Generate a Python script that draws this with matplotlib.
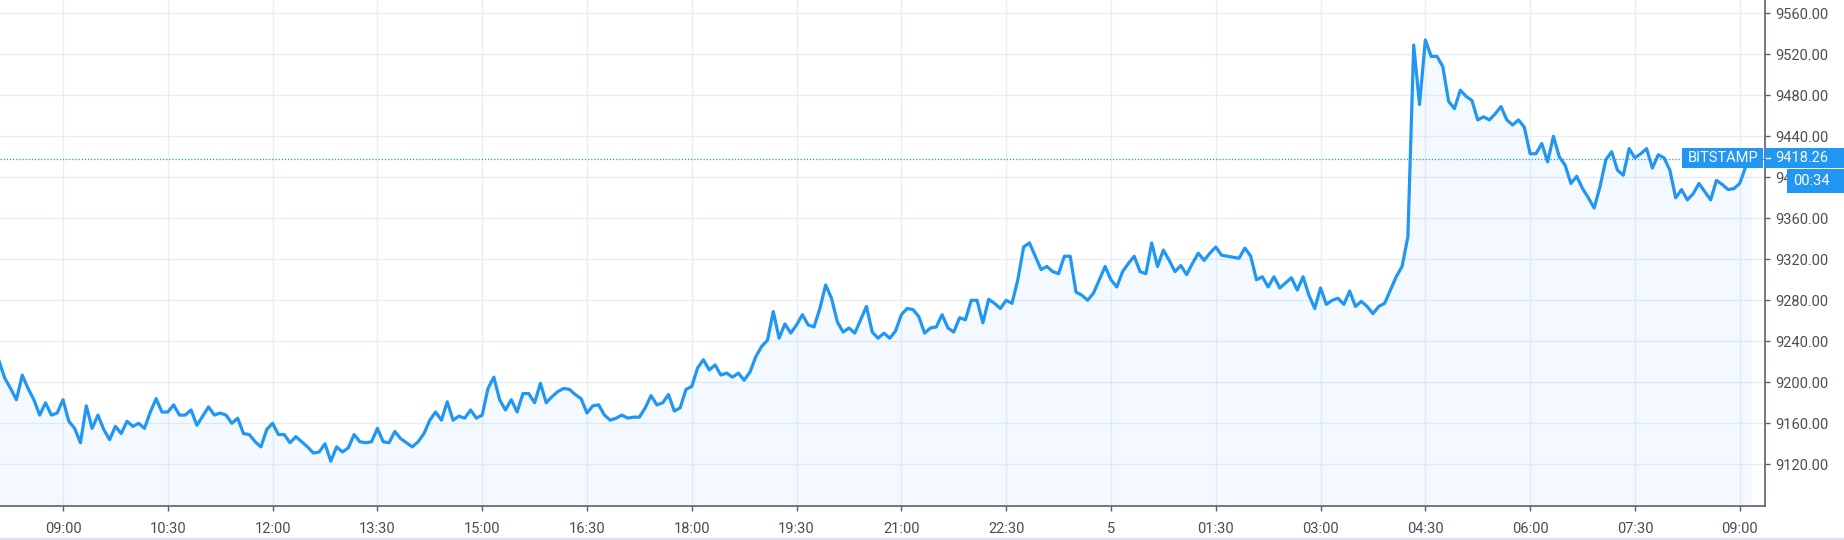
import numpy as np
import pandas as pd
import matplotlib
matplotlib.use("Agg")
import matplotlib.pyplot as plt
from matplotlib.patches import Rectangle
from matplotlib.lines import Line2D

# BTCUSD (Bitstamp), 5-minute closes, starting 08:05 on the 4th
start = "2020-02-04 08:05"
prices = [
    9221, 9204, 9194, 9183, 9207, 9194, 9183, 9168, 9180, 9168,
    9170, 9183, 9162, 9155, 9141, 9177, 9155, 9168, 9154, 9144,
    9157, 9150, 9162, 9157, 9160, 9155, 9171, 9184, 9171, 9171,
    9178, 9168, 9168, 9173, 9158, 9167, 9176, 9168, 9170, 9168,
    9160, 9165, 9150, 9149, 9142, 9137, 9154, 9160, 9149, 9149,
    9141, 9147, 9142, 9137, 9131, 9132, 9140, 9123, 9137, 9132,
    9136, 9149, 9142, 9141, 9142, 9155, 9142, 9141, 9152, 9145,
    9141, 9137, 9142, 9150, 9163, 9171, 9163, 9181, 9163, 9167,
    9165, 9173, 9165, 9168, 9194, 9205, 9183, 9173, 9183, 9171,
    9189, 9189, 9180, 9199, 9180, 9186, 9191, 9194, 9193, 9188,
    9184, 9170, 9177, 9178, 9168, 9163, 9165, 9168, 9165, 9166,
    9166, 9175, 9187, 9178, 9180, 9188, 9172, 9175, 9193, 9196,
    9214, 9222, 9212, 9217, 9207, 9209, 9205, 9209, 9202, 9210,
    9225, 9235, 9241, 9269, 9243, 9257, 9248, 9256, 9266, 9256,
    9254, 9272, 9295, 9282, 9259, 9249, 9253, 9248, 9261, 9274,
    9249, 9243, 9248, 9243, 9250, 9266, 9272, 9271, 9264, 9248,
    9253, 9254, 9266, 9253, 9249, 9263, 9261, 9280, 9280, 9258,
    9281, 9277, 9272, 9280, 9277, 9300, 9332, 9336, 9323, 9310,
    9313, 9308, 9306, 9323, 9323, 9288, 9285, 9280, 9287, 9300,
    9313, 9300, 9293, 9308, 9316, 9323, 9308, 9306, 9336, 9313,
    9329, 9319, 9308, 9314, 9305, 9316, 9326, 9319, 9326, 9332,
    9324, 9323, 9322, 9321, 9331, 9323, 9300, 9303, 9293, 9303,
    9292, 9297, 9302, 9290, 9303, 9285, 9272, 9292, 9276, 9280,
    9282, 9276, 9289, 9274, 9279, 9274, 9267, 9274, 9277, 9290,
    9303, 9313, 9342, 9529, 9471, 9534, 9518, 9518, 9508, 9474,
    9467, 9485, 9479, 9475, 9456, 9459, 9456, 9462, 9469, 9456,
    9451, 9456, 9449, 9423, 9423, 9433, 9415, 9440, 9420, 9412,
    9394, 9401, 9389, 9380, 9370, 9391, 9417, 9425, 9407, 9402,
    9428, 9419, 9423, 9428, 9409, 9422, 9419, 9407, 9380, 9388,
    9378, 9384, 9394, 9386, 9378, 9397, 9393, 9388, 9389, 9394,
    9410, 9418.26,
]
last_price = 9418.26
exchange = "BITSTAMP"
countdown = "00:34"

tick_times = pd.date_range("2020-02-04 09:00", "2020-02-05 09:00", freq="90min")
tick_labels = ["09:00", "10:30", "12:00", "13:30", "15:00", "16:30", "18:00",
               "19:30", "21:00", "22:30", "5", "01:30", "03:00", "04:30",
               "06:00", "07:30", "09:00"]
y_ticks = np.arange(9120, 9561, 40)

times = pd.date_range(start, periods=len(prices), freq="5min")

blue = "#2196f3"
grid_c = "#e8eef4"
axis_c = "#5d606b"
text_c = "#4a4e59"
plt.rcParams["font.family"] = ["Roboto", "DejaVu Sans"]

W, H = 1844, 540
fig = plt.figure(figsize=(W / 100, H / 100), dpi=100)
ax = fig.add_axes([0, 34 / H, 1765 / W, 506 / H])

ax.plot(times, prices, color=blue, lw=2.3, zorder=3)
ax.fill_between(times, prices, 9000, color=blue, alpha=0.05, lw=0, zorder=2)
ax.axhline(last_price, color=blue, lw=0.9, ls=(0, (1, 1.5)), zorder=2.5)

ax.set_xlim(pd.Timestamp("2020-02-04 08:05:54"), pd.Timestamp("2020-02-05 09:21:42"))
ax.set_ylim(9079.3, 9573.0)

ax.set_xticks(tick_times)
ax.set_xticklabels(tick_labels)
ax.set_yticks(y_ticks)
ax.set_yticklabels([f"{v:.2f}" for v in y_ticks])
ax.yaxis.tick_right()
ax.grid(True, color=grid_c, lw=1.0, zorder=0)
ax.set_axisbelow(True)

for s in ["top", "left"]:
    ax.spines[s].set_visible(False)
for s in ["bottom", "right"]:
    ax.spines[s].set_color(axis_c)
    ax.spines[s].set_linewidth(1.2)
ax.tick_params(axis="x", colors=axis_c, length=3.5, width=1, pad=8,
               labelsize=10.5, labelcolor=text_c)
ax.tick_params(axis="y", colors=axis_c, length=3.5, width=1, pad=4,
               labelsize=10.5, labelcolor=text_c)

# bottom strip line
fig.add_artist(Line2D([0, 1], [1.5 / H, 1.5 / H], color="#e0e3eb", lw=2.5))


def box(x0, y0, x1, y1):
    fig.add_artist(Rectangle((x0 / W, 1 - y1 / H), (x1 - x0) / W, (y1 - y0) / H,
                             transform=fig.transFigure, color=blue, lw=0, zorder=5))


# last price labels
box(1682, 148, 1763, 168)
fig.text(1723 / W, 1 - 158.5 / H, exchange, color="white", fontsize=10.5,
         ha="center", va="center", zorder=6)
box(1765, 148, 1844, 168)
fig.add_artist(Line2D([1766 / W, 1770 / W], [1 - 158 / H] * 2, color="white", lw=1, zorder=6))
fig.text(1775 / W, 1 - 158.5 / H, f"{last_price:.2f}", color="white", fontsize=10.5,
         ha="left", va="center", zorder=6)
box(1787, 169, 1844, 193)
fig.text(1793 / W, 1 - 181 / H, countdown, color="white", fontsize=10.5,
         ha="left", va="center", zorder=6)

fig.savefig("out.png", dpi=100, facecolor="white")
